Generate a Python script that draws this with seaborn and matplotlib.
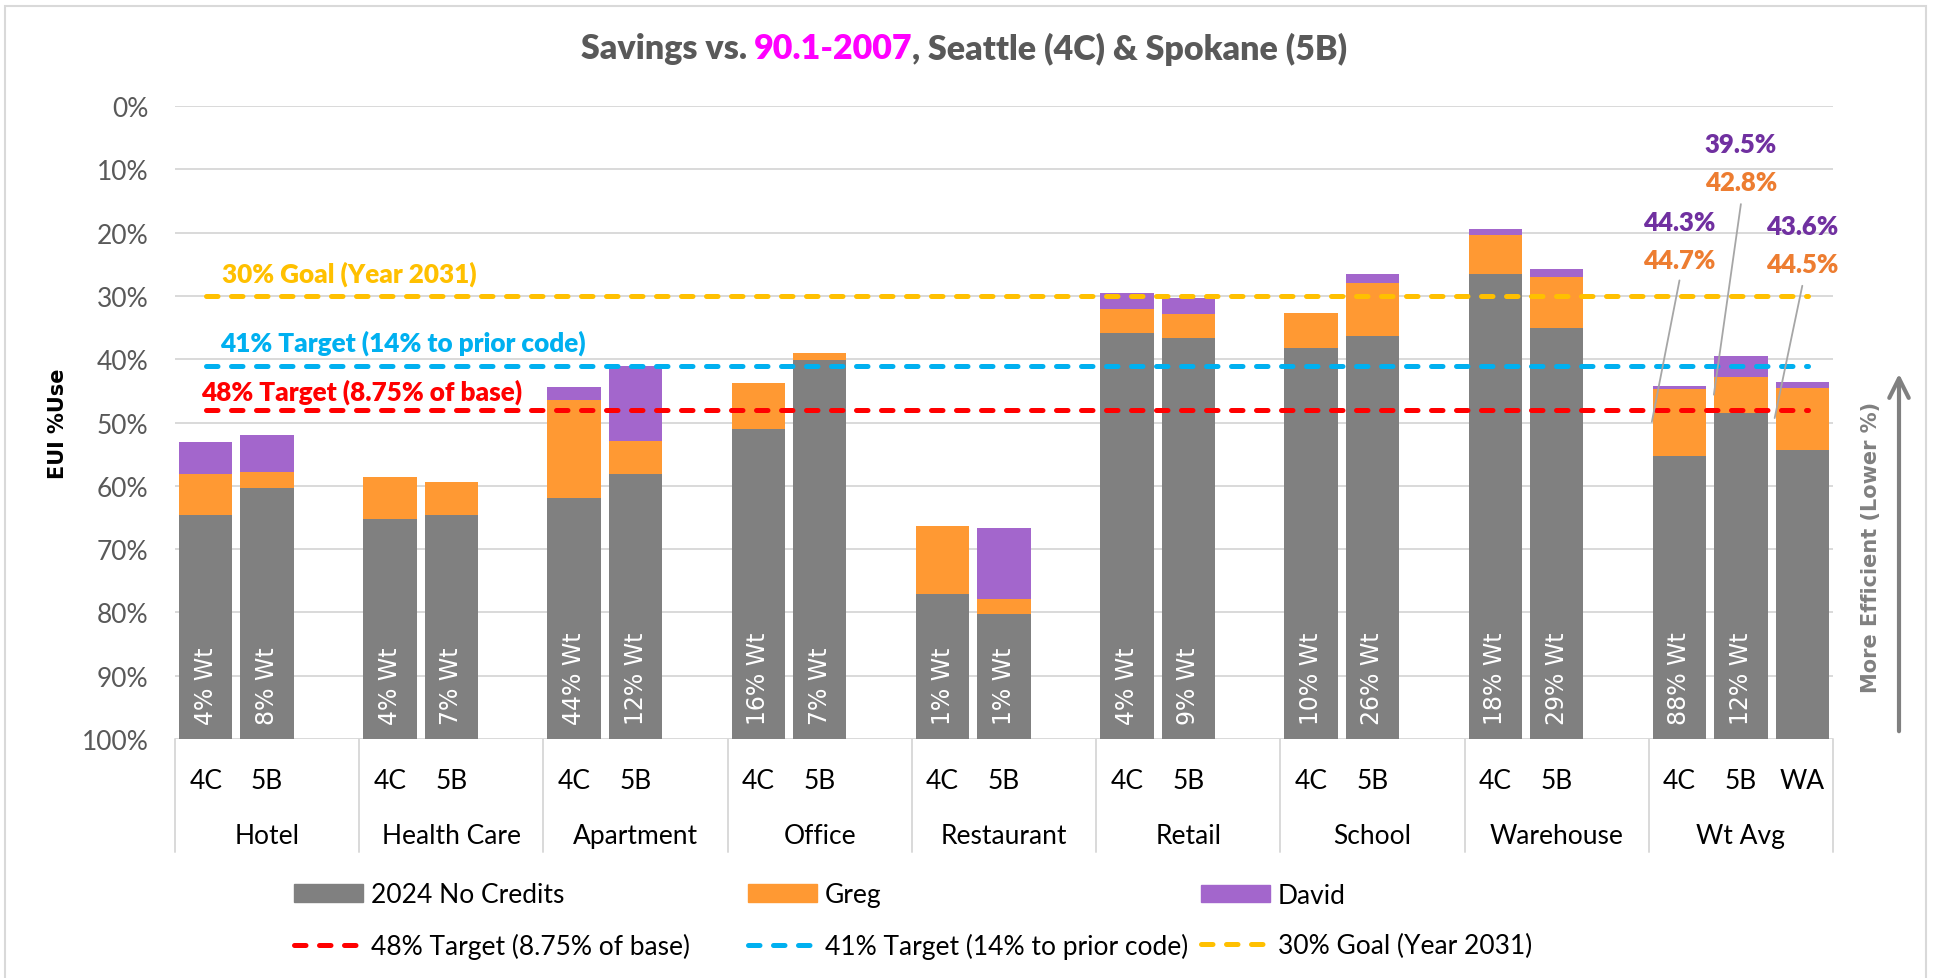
import pandas as pd
import matplotlib
matplotlib.use("Agg")
import matplotlib.pyplot as plt
import matplotlib.transforms as mtransforms
from matplotlib.patches import Rectangle, Patch
import seaborn as sns

# chart values (EUI % of 90.1-2007 baseline, lower is better)
groups = ["Hotel", "Health Care", "Apartment", "Office", "Restaurant",
          "Retail", "School", "Warehouse", "Wt Avg"]
zones = [["4C", "5B"]] * 8 + [["4C", "5B", "WA"]]

base_2024 = [64.6, 60.3, 65.2, 64.6, 61.9, 58.2, 51.1, 40.2, 77.1, 80.3,
             35.8, 36.6, 38.3, 36.3, 26.6, 35.1, 55.3, 48.5, 54.3]
greg = [58.1, 57.8, 58.6, 59.4, 46.5, 52.9, 43.8, 39.0, 66.4, 77.9,
        32.1, 32.9, 32.7, 27.9, 20.4, 27.0, 44.7, 42.8, 44.5]
david = [53.1, 51.9, None, None, 44.4, 41.1, None, None, None, 66.7,
         29.5, 30.3, None, 26.6, 19.4, 25.7, 44.3, 39.5, 43.6]
weights = ["4%", "8%", "4%", "7%", "44%", "12%", "16%", "7%", "1%", "1%",
           "4%", "9%", "10%", "26%", "18%", "29%", "88%", "12%", ""]

target_vals = [48, 41, 30]
target_labels = ["48% Target (8.75% of base)", "41% Target (14% to prior code)",
                 "30% Goal (Year 2031)"]
target_colors = ["#FF0000", "#00B0F0", "#FFC000"]

GRAY, ORANGE, PURPLE = "#808080", "#FF9933", "#A366CC"
TXT = "#595959"
FS = 19  # regular text size
BOLD = "heavy"

# build slots: every group takes 3 slots, empty ones have no bar
slots, rows = [], []
k = 0
for g, zs in zip(groups, zones):
    for j in range(3):
        if j < len(zs):
            name = f"{g}|{zs[j]}"
            d = david[k] if david[k] is not None else greg[k]
            rows.append({"slot": name, "base": 100 - base_2024[k],
                         "greg": 100 - greg[k], "david": 100 - d})
            k += 1
        else:
            name = f"{g}|_"
        slots.append(name)
df = pd.DataFrame(rows)
bar_pos = [slots.index(s) for s in df["slot"]]

sns.set_theme(style="white")
plt.rcParams["font.family"] = ["Lato", "DejaVu Sans"]

fig = plt.figure(figsize=(19.38, 9.79), dpi=100)
ax = fig.add_axes([175 / 1938, 1 - 740 / 979, (1833 - 175) / 1938, 633 / 979])

w = 0.87
sns.barplot(data=df, x="slot", y="david", order=slots, color=PURPLE, width=w,
            errorbar=None, saturation=1, linewidth=0, ax=ax)
sns.barplot(data=df, x="slot", y="greg", order=slots, color=ORANGE, width=w,
            errorbar=None, saturation=1, linewidth=0, ax=ax)
sns.barplot(data=df, x="slot", y="base", order=slots, color=GRAY, width=w,
            errorbar=None, saturation=1, linewidth=0, ax=ax)

ax.set_xlim(-0.5, len(slots) - 0.5)
ax.set_ylim(0, 100)
ax.set_yticks(range(0, 101, 10))
ax.set_yticklabels([f"{100 - t}%" for t in range(0, 101, 10)])
ax.tick_params(axis="y", length=0, pad=19, labelsize=FS, labelcolor=TXT)
ax.set_xticks([])
ax.set_xlabel("")
ax.set_ylabel("")
ax.yaxis.grid(True, color="#D9D9D9", lw=1.4)
ax.set_axisbelow(True)
for sp in ax.spines.values():
    sp.set_visible(False)

# target lines
line_handles = []
label_pos = [(-0.08, 55.0), (0.23, 62.7), (0.27, 73.6)]
for v, lab, c, (lx, ly) in zip(target_vals, target_labels, target_colors, label_pos):
    ln, = ax.plot([0, len(slots) - 0.9], [100 - v, 100 - v], color=c, lw=3.6,
                  dashes=[2.3, 2.7], dash_capstyle="round", zorder=3)
    line_handles.append(ln)
    ax.text(lx, ly, lab, color=c, fontsize=18.8, fontweight=BOLD,
            ha="left", va="center")

# weight labels inside bars
for x, wt in zip(bar_pos, weights):
    if wt:
        ax.text(x, 2.4, f"{wt} Wt", rotation=90, ha="center", va="bottom",
                color="white", fontsize=17, family="DejaVu Sans", zorder=4)

# value callouts on the weighted averages
callouts = [(24, 75.6, 72.45, 23.55, 50.1),
            (25, 88.0, 84.5, 24.56, 54.4),
            (26, 75.0, 71.6, 25.55, 50.7)]
for i, (x, ty, y0, x1, y1) in enumerate(callouts):
    kk = len(greg) - 3 + i
    ax.text(x, ty, f"{greg[kk]:.1f}%", color="#ED7D31", fontsize=18.5,
            fontweight=BOLD, ha="center", va="center")
    ax.text(x, ty + 6, f"{david[kk]:.1f}%", color="#7030A0", fontsize=18.5,
            fontweight=BOLD, ha="center", va="center")
    ax.plot([x, x1], [y0, y1], color="#A6A6A6", lw=1.3, zorder=5)

# two-level category axis
trans = mtransforms.blended_transform_factory(ax.transData, ax.transAxes)
for s, name in enumerate(slots):
    g, z = name.split("|")
    if z != "_":
        ax.text(s, -0.065, z, transform=trans, ha="center", va="center",
                fontsize=FS, color="black")
for gi, g in enumerate(groups):
    ax.text(gi * 3 + 1, -0.152, g, transform=trans, ha="center", va="center",
            fontsize=FS, color="black")
for b in range(len(groups) + 1):
    ax.plot([b * 3 - 0.5] * 2, [0, -0.1785], transform=trans, color="#D9D9D9",
            lw=1.4, clip_on=False)

# title with coloured code name
fig.canvas.draw()
r = fig.canvas.get_renderer()
pieces = [("Savings vs.", TXT), ("90.1-2007", "#FF00FF"),
          (", Seattle (4C) & Spokane (5B)", TXT)]
tts = [fig.text(0, 1 - 49 / 979, p, color=c, fontsize=24.5, fontweight=BOLD,
                va="center") for p, c in pieces]
widths = [t.get_window_extent(r).width for t in tts]
gap = 7
total = sum(widths) + gap
x0 = 964 - total / 2
tts[0].set_x(x0 / 1938)
tts[1].set_x((x0 + widths[0] + gap) / 1938)
tts[2].set_x((x0 + widths[0] + gap + widths[1]) / 1938)

fig.text(58 / 1938, 1 - 424 / 979, "EUI %Use", rotation=90, ha="center",
         va="center", fontsize=15, fontweight="bold", family="DejaVu Sans",
         color="black")
fig.text(1871 / 1938, 1 - 547 / 979, "More Efficient (Lower %)", rotation=90,
         ha="center", va="center", fontsize=15, fontweight="bold",
         family="DejaVu Sans", color=GRAY)
ax.annotate("", xy=(1899 / 1938, 1 - 372 / 979), xytext=(1899 / 1938, 1 - 735 / 979),
            xycoords="figure fraction", textcoords="figure fraction",
            arrowprops=dict(arrowstyle="->", color=GRAY, lw=3, mutation_scale=35))

# legend, three columns of two rows
cols = [[Patch(color=GRAY), line_handles[0]],
        [Patch(color=ORANGE), line_handles[1]],
        [Patch(color=PURPLE), line_handles[2]]]
col_labels = [["2024 No Credits", target_labels[0]],
              ["Greg", target_labels[1]],
              ["David", target_labels[2]]]
for cx, hs, ls in zip([294, 748, 1201], cols, col_labels):
    leg = fig.legend(hs, ls, loc="center left",
                     bbox_to_anchor=(cx / 1938, 1 - 921.5 / 979), frameon=False,
                     fontsize=FS, handlelength=2.6, handleheight=0.63,
                     handletextpad=0.3, labelspacing=0.95, borderpad=0,
                     borderaxespad=0)
    for t in leg.get_texts():
        t.set_color("black")

fig.patches.append(Rectangle((5 / 1938, -0.02), 1921 / 1938, (979 - 7) / 979 + 0.02,
                             transform=fig.transFigure, fill=False,
                             edgecolor="#D9D9D9", lw=1.5))

fig.savefig("out.png", dpi=100)
